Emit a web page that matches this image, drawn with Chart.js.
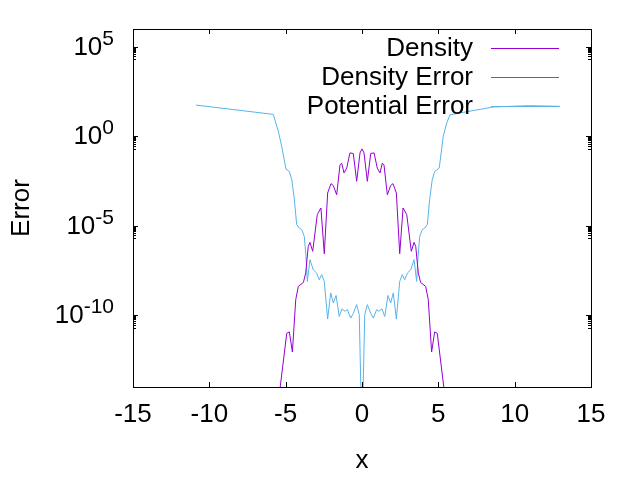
<!DOCTYPE html>
<html>
<head>
<meta charset="utf-8">
<script src="https://cdn.jsdelivr.net/npm/chart.js@4"></script>
<style>
  body { margin: 0; background: #fff; }
  #wrap { width: 640px; height: 480px; }
</style>
</head>
<body>
<div id="wrap"><canvas id="errorChart" width="640" height="480"></canvas></div>
<script>
const densityX = [-5.5, -4.93, -4.76, -4.56, -4.34, -4.17, -3.84, -3.69, -3.52, -3.41, -3.23, -2.93, -2.69,
  -2.47, -2.25, -2.03, -1.88, -1.66, -1.44, -1.33, -1.18, -1.0, -0.79, -0.57, -0.35, -0.13, 0,
  0.13, 0.35, 0.57, 0.79, 1.0, 1.18, 1.33, 1.44, 1.66, 1.88, 2.03, 2.25, 2.47, 2.69, 2.93,
  3.23, 3.41, 3.52, 3.69, 3.84, 4.17, 4.34, 4.56, 4.76, 4.93, 5.5];
const densityValues = [1e-15, 1.0e-11, 1.2e-11, 9e-13, 7.6e-10, 4.2e-9, 6.9e-9, 2.3e-8, 7.1e-7, 1.2e-6, 3.8e-7, 4.3e-5, 1.0e-4,
  2.8e-7, 6.9e-4, 2.3e-3, 1.8e-3, 5.5e-4, 2.6e-2, 3.2e-2, 9.1e-3, 1.7e-2, 0.12, 0.11, 3.1e-3, 0.12, 0.2,
  0.12, 3.1e-3, 0.11, 0.12, 1.7e-2, 9.1e-3, 3.2e-2, 2.6e-2, 5.5e-4, 1.8e-3, 2.3e-3, 6.9e-4, 2.8e-7, 1.0e-4, 4.3e-5,
  3.8e-7, 1.2e-6, 7.1e-7, 2.3e-8, 6.9e-9, 4.2e-9, 7.6e-10, 9e-13, 1.2e-11, 1.0e-11, 1e-15];

// nothing of this series shows inside the plotted range
const densityErrorX = [];
const densityErrorValues = [];

const potentialX = [-10.87, -5.81, -5.48, -5.26, -4.98, -4.76, -4.6, -4.43, -4.28, -4.11, -3.95, -3.78, -3.67,
  -3.58, -3.41, -3.19, -2.97, -2.8, -2.64, -2.47, -2.25, -2.05, -1.88, -1.7, -1.49, -1.31, -1.11,
  -0.96, -0.74, -0.57, -0.35, -0.18, 0,
  0.18, 0.35, 0.57, 0.74, 0.96, 1.11, 1.31, 1.49, 1.7, 1.88, 2.05, 2.25, 2.47, 2.64, 2.8, 2.97,
  3.19, 3.41, 3.58, 3.67, 3.78, 3.95, 4.11, 4.28, 4.43, 4.6, 4.76, 4.98, 5.06, 5.32, 5.55, 5.76,
  6.63, 8.6, 10.9, 12.97];
const potentialValues = [56, 17, 1.9, 0.28, 1.5e-2, 1.1e-2, 3.8e-3, 2.9e-4, 1.2e-5, 7.6e-6, 6.2e-6, 2.6e-6, 2.0e-7,
  7.9e-9, 1.3e-7, 3.5e-8, 2.3e-8, 9.8e-9, 1.9e-8, 7.9e-9, 6.3e-11, 1.8e-9, 4.9e-10, 1.3e-9, 8.7e-11, 2.3e-10, 1.7e-10,
  2.1e-10, 7.1e-11, 1.3e-10, 4.0e-10, 1.1e-10, 1e-17,
  1.1e-10, 4.0e-10, 1.3e-10, 7.1e-11, 2.1e-10, 1.7e-10, 2.3e-10, 8.7e-11, 1.3e-9, 4.9e-10, 1.8e-9, 6.3e-11, 7.9e-9, 1.9e-8, 9.8e-9, 2.3e-8,
  3.5e-8, 1.3e-7, 7.9e-9, 2.0e-7, 2.6e-6, 6.2e-6, 7.6e-6, 1.2e-5, 2.9e-4, 3.8e-3, 1.1e-2, 1.5e-2, 1.7e-2, 1.0, 5.6, 16,
  22, 44, 52, 48];

const xTicks = [-15, -10, -5, 0, 5, 10, 15];
const yTicks = [1e-10, 1e-5, 1e0, 1e5];
const yTickExponents = ["-10", "-5", "0", "5"];

const FONT = "'Liberation Sans', Arial, sans-serif";
const FONT_SIZE = 26;

function toPoints(xs, ys) {
  return xs.map((x, i) => ({ x: x, y: ys[i] }));
}

// gnuplot style frame with inward ticks, plus 10^n labels with raised exponents
const framePlugin = {
  id: "frame",
  afterDraw(chart) {
    const { ctx, chartArea: a, scales } = chart;
    ctx.save();
    ctx.strokeStyle = "#000";
    ctx.lineWidth = 1;
    ctx.beginPath();
    xTicks.forEach(v => {
      const px = Math.round(scales.x.getPixelForValue(v)) + 0.5;
      ctx.moveTo(px, a.bottom); ctx.lineTo(px, a.bottom - 5);
      ctx.moveTo(px, a.top); ctx.lineTo(px, a.top + 5);
    });
    yTicks.forEach(v => {
      const py = Math.round(scales.y.getPixelForValue(v)) + 0.5;
      ctx.moveTo(a.left, py); ctx.lineTo(a.left + 5, py);
      ctx.moveTo(a.right, py); ctx.lineTo(a.right - 5, py);
      for (let k = 2; k <= 9; k++) {
        const my = Math.round(scales.y.getPixelForValue(v * k / 10)) + 0.5;
        ctx.moveTo(a.left, my); ctx.lineTo(a.left + 3, my);
        ctx.moveTo(a.right, my); ctx.lineTo(a.right - 3, my);
      }
    });
    ctx.stroke();
    ctx.strokeRect(Math.round(a.left) + 0.5, Math.round(a.top) + 0.5,
      Math.round(a.right - a.left), Math.round(a.bottom - a.top));

    ctx.fillStyle = "#000";
    ctx.textAlign = "left";
    ctx.textBaseline = "alphabetic";
    const baseFont = FONT_SIZE + "px " + FONT;
    const supFont = Math.round(FONT_SIZE * 0.8) + "px " + FONT;
    yTicks.forEach((v, i) => {
      const py = scales.y.getPixelForValue(v);
      ctx.font = supFont;
      const supW = ctx.measureText(yTickExponents[i]).width;
      ctx.font = baseFont;
      const baseW = ctx.measureText("10").width;
      const right = a.left - 19;
      const baseline = py + 8;
      ctx.fillText("10", right - supW - baseW, baseline);
      ctx.font = supFont;
      ctx.fillText(yTickExponents[i], right - supW, baseline - 10);
    });
    ctx.restore();
  }
};

// key drawn inside the plot, text right aligned with the sample to its right
const keyPlugin = {
  id: "key",
  afterDatasetsDraw(chart) {
    const { ctx } = chart;
    ctx.save();
    ctx.font = FONT_SIZE + "px " + FONT;
    ctx.textAlign = "right";
    ctx.textBaseline = "middle";
    chart.data.datasets.forEach((ds, i) => {
      const y = 48 + i * 29;
      ctx.fillStyle = "#000";
      ctx.fillText(ds.label, 473, y + 1);
      ctx.strokeStyle = ds.borderColor;
      ctx.lineWidth = 1;
      ctx.beginPath();
      ctx.moveTo(491, y + 0.5);
      ctx.lineTo(559, y + 0.5);
      ctx.stroke();
    });
    ctx.restore();
  }
};

new Chart(document.getElementById("errorChart"), {
  type: "line",
  data: {
    datasets: [
      {
        label: "Density",
        data: toPoints(densityX, densityValues),
        borderColor: "#9400d3",
        borderWidth: 1,
        pointRadius: 0,
        tension: 0
      },
      {
        label: "Density Error",
        data: toPoints(densityErrorX, densityErrorValues),
        borderColor: "#009e73",
        borderWidth: 1,
        pointRadius: 0
      },
      {
        label: "Potential Error",
        data: toPoints(potentialX, potentialValues),
        borderColor: "#56b4e9",
        borderWidth: 1,
        pointRadius: 0,
        tension: 0
      }
    ]
  },
  options: {
    responsive: false,
    animation: false,
    devicePixelRatio: 1,
    layout: { padding: { left: 0, right: 49, top: 29, bottom: 0 } },
    plugins: {
      legend: { display: false },
      tooltip: { enabled: false }
    },
    scales: {
      x: {
        type: "linear",
        min: -15,
        max: 15,
        grid: { display: false, drawTicks: false },
        border: { display: false },
        afterBuildTicks: scale => { scale.ticks = xTicks.map(v => ({ value: v })); },
        afterFit: scale => { scale.height = 93; },
        ticks: {
          color: "#000",
          padding: 12,
          maxRotation: 0,
          font: { family: FONT, size: FONT_SIZE }
        },
        title: {
          display: true,
          text: "x",
          color: "#000",
          padding: { top: 0, bottom: 4 },
          font: { family: FONT, size: FONT_SIZE }
        }
      },
      y: {
        type: "logarithmic",
        min: 1e-14,
        max: 1e6,
        grid: { display: false, drawTicks: false },
        border: { display: false },
        afterBuildTicks: scale => { scale.ticks = yTicks.map(v => ({ value: v })); },
        afterFit: scale => { scale.width = 133; },
        ticks: { display: false },
        title: {
          display: true,
          text: "Error",
          color: "#000",
          padding: { top: 6, bottom: 0 },
          font: { family: FONT, size: FONT_SIZE }
        }
      }
    }
  },
  plugins: [framePlugin, keyPlugin]
});
</script>
</body>
</html>
